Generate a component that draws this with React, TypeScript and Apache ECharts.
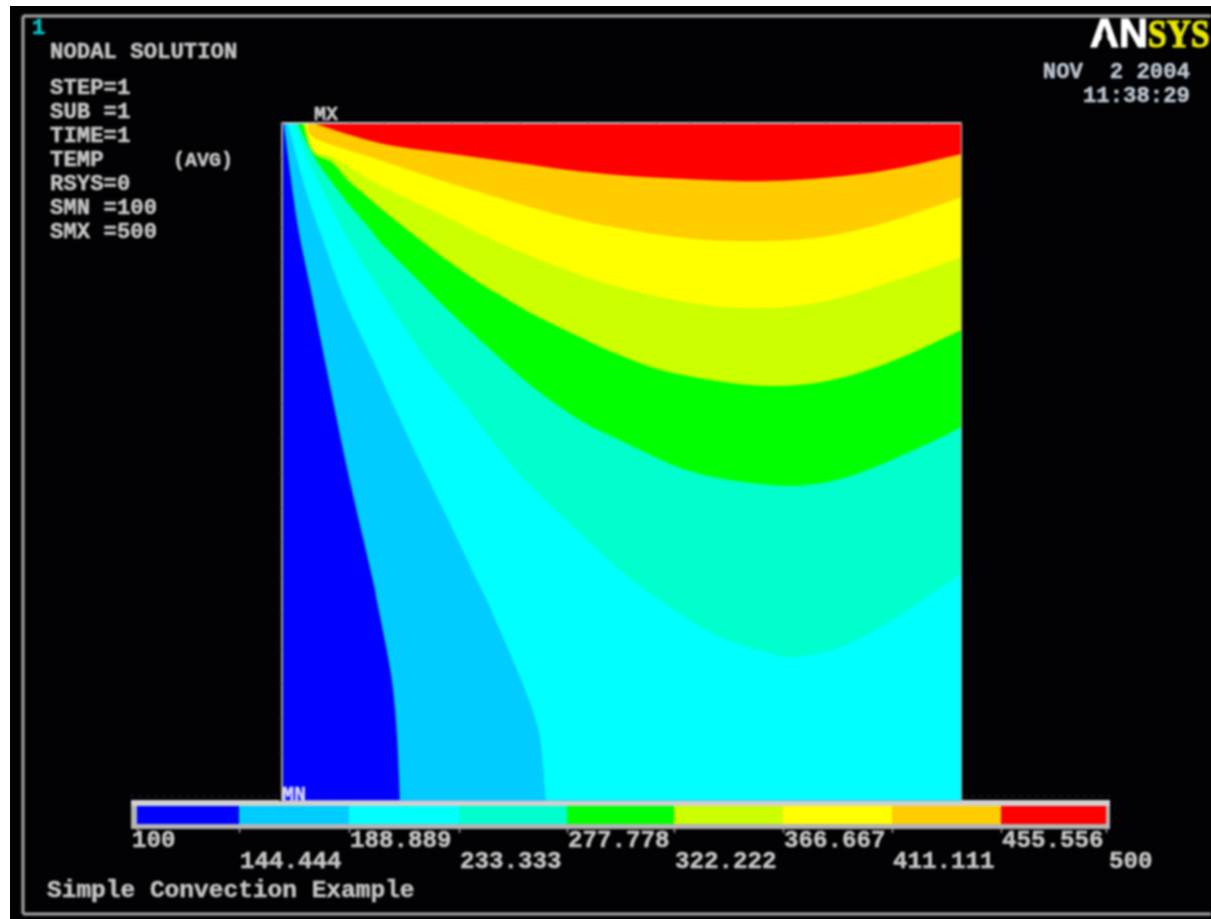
import React, { useEffect, useRef } from "react";
import * as echarts from "echarts";

// Contour boundaries, in plot units [x from left edge, y down from top edge]
const EDGE_LEFT = [[0, 0], [0, 677]];
const B_144 = [[2, 0], [15, 97], [29, 167], [43, 237], [65, 344], [91, 457], [95, 477], [108, 544], [113, 584], [116, 627], [118, 677]];
const B_189 = [[6, 0], [23, 64], [41, 117], [63, 177], [91, 237], [131, 324], [165, 394], [195, 457], [205, 477], [215, 500], [231, 537], [246, 574], [258, 614], [264, 677]];
const B_233 = [[11, 0], [31, 47], [65, 114], [98, 167], [145, 237], [181, 280], [231, 344], [281, 394], [338, 447], [388, 484], [438, 514], [488, 530], [511, 534], [555, 525], [605, 500], [655, 467], [679, 450]];
const B_278 = [[16, 0], [26, 22], [41, 47], [66, 80], [88, 106], [101, 122], [131, 152], [165, 186], [218, 235], [251, 264], [298, 297], [338, 317], [405, 347], [471, 360], [521, 362], [571, 352], [638, 324], [679, 304]];
const B_322 = [[21, 0], [31, 29], [50, 39], [66, 57], [81, 70], [101, 87], [131, 111], [165, 137], [198, 160], [218, 172], [251, 191], [298, 214], [338, 232], [388, 249], [471, 262], [538, 259], [605, 240], [679, 207]];
const B_367 = [[24, 0], [31, 27], [51, 34], [98, 62], [165, 94], [218, 120], [285, 147], [338, 164], [405, 179], [471, 185], [538, 179], [605, 160], [679, 134]];
const B_411 = [[27, 0], [33, 15], [98, 37], [165, 59], [225, 77], [285, 94], [338, 105], [405, 115], [471, 118], [538, 114], [605, 99], [679, 74]];
const B_456 = [[31, 0], [98, 20], [165, 30], [238, 40], [288, 47], [338, 52], [388, 55], [471, 58], [538, 55], [605, 47], [679, 31]];

const BOUNDARIES = [EDGE_LEFT, B_144, B_189, B_233, B_278, B_322, B_367, B_411, B_456];
const BAND_COLORS = ["#0000ff", "#00ccff", "#00ffff", "#00ffcc", "#00ff00", "#ccff00", "#ffff00", "#ffcc00", "#ff0000"];
const LEGEND_WIDTHS = [102, 110, 110, 108, 107, 109, 109, 109, 105];
const LEVEL_LABELS = ["100", "144.444", "188.889", "233.333", "277.778", "322.222", "366.667", "411.111", "455.556", "500"];
const INFO_LINES = ["STEP=1", "SUB =1", "TIME=1", "TEMP", "RSYS=0", "SMN =100", "SMX =500"];
const DATE_LINES = ["NOV  2 2004", "11:38:29"];

const PLOT_W = 679;
const PLOT_H = 677;
const MONO = "Liberation Mono";
const GREY = "#c6c6c6";

function text(str: string, x: number, y: number, size = 22.3, fill = GREY, align = "left", family = MONO, extra: any = {}) {
  return {
    type: "text", x, y, z: 100, silent: true, ...extra,
    style: {
      text: str, fill, align, verticalAlign: "middle",
      fontFamily: family, fontSize: size, fontWeight: "bold",
      stroke: fill, lineWidth: size > 30 ? 1.2 : 0.5,
    },
  };
}
function rect(x: number, y: number, width: number, height: number, fill: string, z = 1) {
  return { type: "rect", z, silent: true, shape: { x, y, width, height }, style: { fill } };
}
function seg(x1: number, y1: number, x2: number, y2: number, stroke: string, lineWidth = 1, lineDash?: number[]) {
  return { type: "line", z: 90, silent: true, shape: { x1, y1, x2, y2 }, style: { stroke, lineWidth, lineDash } };
}

// Draws a smooth line through the read points (the points themselves are what was read).
function smoothThrough(pts: number[][]) {
  if (pts.length < 3) return pts;
  const out: number[][] = [];
  for (let i = 0; i < pts.length - 1; i++) {
    const p0 = pts[Math.max(i - 1, 0)];
    const p1 = pts[i];
    const p2 = pts[i + 1];
    const p3 = pts[Math.min(i + 2, pts.length - 1)];
    for (let s = 0; s < 8; s++) {
      const t = s / 8;
      const t2 = t * t;
      const t3 = t2 * t;
      out.push([0, 1].map((k) =>
        0.5 * (2 * p1[k] + (p2[k] - p0[k]) * t + (2 * p0[k] - 5 * p1[k] + 4 * p2[k] - p3[k]) * t2 + (3 * p1[k] - p0[k] - 3 * p2[k] + p3[k]) * t3)
      ));
    }
  }
  out.push(pts[pts.length - 1]);
  return out;
}

export default function App() {
  const ref = useRef<HTMLDivElement>(null);
  useEffect(() => {
    const chart = echarts.init(ref.current!, null, { renderer: "svg" });

    const contourSeries = BOUNDARIES.map((curve, i) => ({
      type: "custom",
      xAxisIndex: 0,
      yAxisIndex: 0,
      silent: true,
      z: 2 + i * 0.01,
      data: [[0, 0]],
      renderItem: (_p: any, api: any) => {
        const last = curve[curve.length - 1];
        const line = smoothThrough(curve.map((pt) => api.coord(pt)));
        const closed = [...line, api.coord([PLOT_W, last[1]]), api.coord([PLOT_W, 0])];
        return {
          type: "polygon",
          shape: { points: closed },
          style: { fill: BAND_COLORS[i], stroke: BAND_COLORS[i], lineWidth: 0.5 },
        };
      },
    }));

    const legendSeries = LEGEND_WIDTHS.map((w, i) => ({
      type: "bar",
      xAxisIndex: 1,
      yAxisIndex: 1,
      stack: "legend",
      silent: true,
      barCategoryGap: 0,
      data: [w],
      itemStyle: { color: BAND_COLORS[i] },
    }));

    const LEG_X = 137;
    const edges = LEGEND_WIDTHS.reduce<number[]>((acc, w) => [...acc, acc[acc.length - 1] + w], [LEG_X]);

    const graphics: any[] = [
      // outer frame
      seg(23, 16, 1211, 16, "#a8a8a8", 3),
      seg(23, 16, 23, 914, "#a8a8a8", 3),
      seg(23, 914, 1211, 914, "#a8a8a8", 3),
      // legend frame
      rect(131, 800, 979, 29, "#b4b4b4"),
      rect(131, 800, 979, 6, "#d0d0d0"),
      // faint dashes beside plot bottom
      seg(130, 796, 280, 796, "#262626", 1, [4, 4]),
      seg(963, 796, 1110, 796, "#262626", 1, [4, 4]),
      // plot right edge
      seg(961.5, 123, 961.5, 800, "#a09aa0", 1.5),
      // legend ticks
      ...edges.map((e) => seg(e + 0.5, 828, e + 0.5, 833, "#a0a0a0", 1.5)),
      // texts
      text("1", 32, 28, 22, "#00c8c8"),
      text("NODAL SOLUTION", 50, 52),
      ...INFO_LINES.map((l, i) => text(l, 50, 88 + 24 * i)),
      text("(AVG)", 173, 160, 20),
      text("MX", 314, 114, 20),
      text("MN", 282, 794, 20, "#d8d8ff"),
      text("AN", 1090, 33, 40, "#ffffff", "left", "Liberation Sans"),
      { type: "polygon", z: 101, silent: true, shape: { points: [[1104.5, 27], [1098.5, 49], [1110.5, 49]] }, style: { fill: "#020204" } },
      text("SYS", 1148, 33, 40, "#e8e800", "left", "Liberation Serif", { scaleX: 0.84 }),
      text(DATE_LINES[0], 1190, 72, 22.3, "#bcc6d0", "right"),
      text(DATE_LINES[1], 1190, 96, 22.3, "#bcc6d0", "right"),
      ...LEVEL_LABELS.map((l, i) => {
        const x = i === 0 ? 132 : i === LEVEL_LABELS.length - 1 ? 1109 : edges[i] + 1;
        return text(l, x, i % 2 === 0 ? 840 : 861, 24.2);
      }),
      text("Simple Convection Example", 47, 890, 24.5),
    ];

    chart.setOption({
      animation: false,
      backgroundColor: "transparent",
      grid: [
        { left: 282, top: 123, width: PLOT_W, height: PLOT_H },
        { left: LEG_X, top: 806, width: 969, height: 18 },
      ],
      xAxis: [
        {
          gridIndex: 0, type: "value", position: "top", min: 0, max: PLOT_W, interval: 34, z: 5,
          axisLine: { show: true, onZero: false, lineStyle: { color: "#c4c4c4", width: 2 } },
          axisTick: { show: true, length: 3, lineStyle: { color: "#333333" } },
          axisLabel: { show: false }, splitLine: { show: false },
        },
        { gridIndex: 1, type: "value", min: 0, max: 969, show: false },
      ],
      yAxis: [
        {
          gridIndex: 0, type: "value", position: "left", inverse: true, min: 0, max: PLOT_H, interval: 35, z: 5,
          axisLine: { show: true, onZero: false, lineStyle: { color: "#a8a8a8", width: 2 } },
          axisTick: { show: true, length: 3, lineStyle: { color: "#333333" } },
          axisLabel: { show: false }, splitLine: { show: false },
        },
        { gridIndex: 1, type: "category", data: ["legend"], show: false },
      ],
      series: [...contourSeries, ...legendSeries],
      graphic: { elements: graphics },
    });
    return () => chart.dispose();
  }, []);

  return (
    <div style={{ position: "fixed", left: 0, top: 0, width: 1211, height: 919, background: "#ffffff", overflow: "hidden" }}>
      <div style={{ position: "absolute", left: 10, top: 6, right: 0, bottom: 0, background: "#020204" }} />
      <div ref={ref} style={{ position: "absolute", left: 0, top: 0, width: 1211, height: 919, filter: "blur(0.8px)" }} />
    </div>
  );
}
